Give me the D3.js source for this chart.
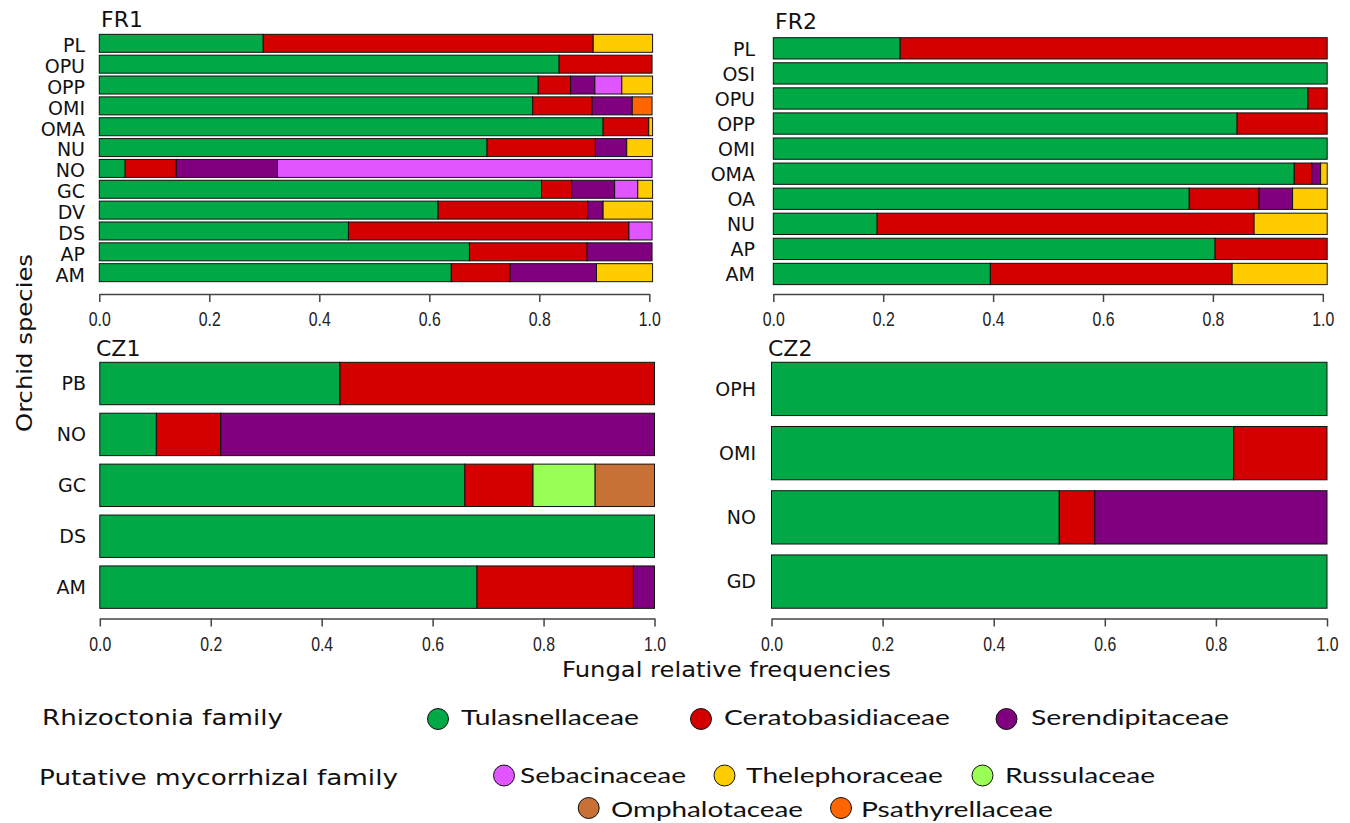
<!DOCTYPE html>
<html><head><meta charset="utf-8">
<script src="https://cdn.jsdelivr.net/npm/d3@7"></script>
<style>body{margin:0;background:#fff}</style>
</head><body>
<svg id="chart" width="1350" height="823"></svg>
<script>
// ---------- DATA ----------
const families = ["Tulasnellaceae","Ceratobasidiaceae","Serendipitaceae","Sebacinaceae","Thelephoraceae","Russulaceae","Omphalotaceae","Psathyrellaceae"];
const familyColors = ["#00a846","#d40000","#800080","#e055ff","#ffcc00","#99ff55","#c87137","#ff6600"];
const rhizoctoniaFamilies = ["Tulasnellaceae","Ceratobasidiaceae","Serendipitaceae"];
const putativeFamilies = ["Sebacinaceae","Thelephoraceae","Russulaceae","Omphalotaceae","Psathyrellaceae"];

const tickValues = [0, 0.2, 0.4, 0.6, 0.8, 1.0];
const tickLabels = ["0.0","0.2","0.4","0.6","0.8","1.0"];

// FR1
const fr1Species = ["PL","OPU","OPP","OMI","OMA","NU","NO","GC","DV","DS","AP","AM"];
const fr1Tulasnellaceae    = [0.298,0.836,0.798,0.788,0.916,0.705,0.047,0.804,0.616,0.453,0.673,0.640];
const fr1Ceratobasidiaceae = [0.600,0.169,0.059,0.108,0.083,0.197,0.093,0.055,0.272,0.510,0.214,0.107];
const fr1Serendipitaceae   = [0,0,0.044,0.073,0,0.057,0.184,0.078,0.028,0,0.118,0.157];
const fr1Sebacinaceae      = [0,0,0.049,0,0,0,0.681,0.042,0,0.042,0,0];
const fr1Thelephoraceae    = [0.108,0,0.056,0,0.007,0.047,0,0.027,0.090,0,0,0.102];
const fr1Psathyrellaceae   = [0,0,0,0.036,0,0,0,0,0,0,0,0];

// FR2
const fr2Species = ["PL","OSI","OPU","OPP","OMI","OMA","OA","NU","AP","AM"];
const fr2Tulasnellaceae    = [0.231,1.008,0.973,0.844,1.008,0.948,0.757,0.189,0.804,0.395];
const fr2Ceratobasidiaceae = [0.777,0,0.035,0.164,0,0.032,0.127,0.686,0.204,0.440];
const fr2Serendipitaceae   = [0,0,0,0,0,0.016,0.061,0,0,0];
const fr2Thelephoraceae    = [0,0,0,0,0,0.012,0.063,0.133,0,0.173];

// CZ1
const cz1Species = ["PB","NO","GC","DS","AM"];
const cz1Tulasnellaceae    = [0.433,0.102,0.658,1.0,0.680];
const cz1Ceratobasidiaceae = [0.567,0.116,0.123,0,0.282];
const cz1Serendipitaceae   = [0,0.782,0,0,0.038];
const cz1Russulaceae       = [0,0,0.112,0,0];
const cz1Omphalotaceae     = [0,0,0.107,0,0];

// CZ2
const cz2Species = ["OPH","OMI","NO","GD"];
const cz2Tulasnellaceae    = [1.0,0.832,0.518,1.0];
const cz2Ceratobasidiaceae = [0,0.168,0.064,0];
const cz2Serendipitaceae   = [0,0,0.418,0];

// ---------- LAYOUT ----------
const panels = [
  {title:"FR1", species:fr1Species,
   values:{Tulasnellaceae:fr1Tulasnellaceae,Ceratobasidiaceae:fr1Ceratobasidiaceae,Serendipitaceae:fr1Serendipitaceae,Sebacinaceae:fr1Sebacinaceae,Thelephoraceae:fr1Thelephoraceae,Psathyrellaceae:fr1Psathyrellaceae},
   xRange:[99.3,649.3], yRange:[32.9,283.1], pad:0.137, axisY:294, labelX:85, labelDy:2, titleX:101, titleY:27},
  {title:"FR2", species:fr2Species,
   values:{Tulasnellaceae:fr2Tulasnellaceae,Ceratobasidiaceae:fr2Ceratobasidiaceae,Serendipitaceae:fr2Serendipitaceae,Thelephoraceae:fr2Thelephoraceae},
   xRange:[773.3,1322.8], yRange:[35.8,286.5], pad:0.15, axisY:294, labelX:755, labelDy:0.5, titleX:775, titleY:29},
  {title:"CZ1", species:cz1Species,
   values:{Tulasnellaceae:cz1Tulasnellaceae,Ceratobasidiaceae:cz1Ceratobasidiaceae,Serendipitaceae:cz1Serendipitaceae,Russulaceae:cz1Russulaceae,Omphalotaceae:cz1Omphalotaceae},
   xRange:[99.8,654.5], yRange:[358.05,612.6], pad:0.167, axisY:618.5, labelX:86, labelDy:0, titleX:96, titleY:356},
  {title:"CZ2", species:cz2Species,
   values:{Tulasnellaceae:cz2Tulasnellaceae,Ceratobasidiaceae:cz2Ceratobasidiaceae,Serendipitaceae:cz2Serendipitaceae},
   xRange:[771.5,1327], yRange:[356.8,613.7], pad:0.17, axisY:618.5, labelX:756, labelDy:0, titleX:768, titleY:356}
];

const svg = d3.select("#chart");
const colorOf = d3.scaleOrdinal().domain(families).range(familyColors);
const labelFont = "'DejaVu Sans', Verdana, sans-serif";

panels.forEach(p => {
  const x = d3.scaleLinear().domain([0,1]).range(p.xRange);
  const y = d3.scaleBand().domain(p.species).range(p.yRange).paddingInner(p.pad).paddingOuter(p.pad/2);
  const rows = p.species.map((s,i) => {
    const o = {species:s};
    families.forEach(f => { o[f] = p.values[f] ? p.values[f][i] : 0; });
    return o;
  });
  const series = d3.stack().keys(families)(rows);
  const g = svg.append("g");

  g.selectAll("g.series").data(series).join("g").attr("class","series")
    .attr("fill", d => colorOf(d.key))
    .selectAll("rect").data(d => d.filter(e => e[1]-e[0] > 1e-6)).join("rect")
    .attr("x", d => x(d[0]))
    .attr("width", d => x(d[1]) - x(d[0]))
    .attr("y", d => y(d.data.species))
    .attr("height", y.bandwidth())
    .attr("stroke", "#111").attr("stroke-width", 1);

  const axis = d3.axisBottom(x).tickValues(tickValues).tickFormat((d,i) => tickLabels[i])
    .tickSize(8).tickSizeOuter(0).tickPadding(10);
  const ag = g.append("g").attr("transform", `translate(0,${p.axisY})`).call(axis);
  ag.select(".domain").attr("stroke","#444").attr("stroke-width",1.5);
  ag.selectAll(".tick line").attr("stroke","#444").attr("stroke-width",1.5);
  ag.selectAll(".tick text").attr("font-family","'Liberation Sans Narrow','Liberation Sans',Arial,sans-serif")
    .attr("font-size",20).attr("fill","#222")
    .attr("textLength",22).attr("lengthAdjust","spacingAndGlyphs");

  g.selectAll("text.rowlab").data(p.species).join("text").attr("class","rowlab")
    .attr("x", p.labelX)
    .attr("y", d => y(d) + y.bandwidth()/2 + p.labelDy)
    .attr("dy","0.36em").attr("text-anchor","end")
    .attr("font-family",labelFont).attr("font-size",19).attr("fill","#111")
    .text(d => d);

  g.append("text").attr("x",p.titleX).attr("y",p.titleY)
    .attr("font-family",labelFont).attr("font-size",22).attr("fill","#111")
    .text(p.title);
});

// axis titles
svg.append("text").attr("transform","translate(32,343) rotate(-90)")
  .attr("text-anchor","middle").attr("font-family",labelFont).attr("font-size",22).attr("fill","#111")
  .attr("textLength",178).attr("lengthAdjust","spacingAndGlyphs")
  .text("Orchid species");
svg.append("text").attr("x",726.5).attr("y",677)
  .attr("text-anchor","middle").attr("font-family",labelFont).attr("font-size",22).attr("fill","#111")
  .attr("textLength",329).attr("lengthAdjust","spacingAndGlyphs")
  .text("Fungal relative frequencies");

// ---------- LEGEND ----------
const legendHeads = [
  {text:"Rhizoctonia family", x:42, y:725, len:241},
  {text:"Putative mycorrhizal family", x:39, y:785, len:359}
];
svg.selectAll("text.lhead").data(legendHeads).join("text").attr("class","lhead")
  .attr("x",d=>d.x).attr("y",d=>d.y)
  .attr("font-family",labelFont).attr("font-size",21).attr("fill","#111")
  .attr("textLength",d=>d.len).attr("lengthAdjust","spacingAndGlyphs")
  .text(d=>d.text);

const legendLayout = {
  Tulasnellaceae:   {cx:438,   cy:719,   tx:461,  ty:725, len:178},
  Ceratobasidiaceae:{cx:701,   cy:719,   tx:724,  ty:725, len:226},
  Serendipitaceae:  {cx:1006.5,cy:719,   tx:1031, ty:725, len:198},
  Sebacinaceae:     {cx:504,   cy:775.5, tx:520,  ty:783, len:166},
  Thelephoraceae:   {cx:724.5, cy:775.5, tx:746,  ty:783, len:197},
  Russulaceae:      {cx:982.5, cy:775.5, tx:1005, ty:783, len:150},
  Omphalotaceae:    {cx:588.7, cy:808,   tx:611,  ty:817, len:192},
  Psathyrellaceae:  {cx:841,   cy:808,   tx:861,  ty:817, len:192}
};
const leg = svg.selectAll("g.leg").data(families).join("g").attr("class","leg");
leg.append("circle").attr("cx",d=>legendLayout[d].cx).attr("cy",d=>legendLayout[d].cy).attr("r",10.5)
  .attr("fill",d=>colorOf(d)).attr("stroke","#111").attr("stroke-width",1);
leg.append("text").attr("x",d=>legendLayout[d].tx).attr("y",d=>legendLayout[d].ty)
  .attr("font-family","Lato, 'Open Sans', sans-serif").attr("font-size",22).attr("fill","#111")
  .attr("textLength",d=>legendLayout[d].len).attr("lengthAdjust","spacingAndGlyphs")
  .text(d=>d);
</script>
</body></html>
